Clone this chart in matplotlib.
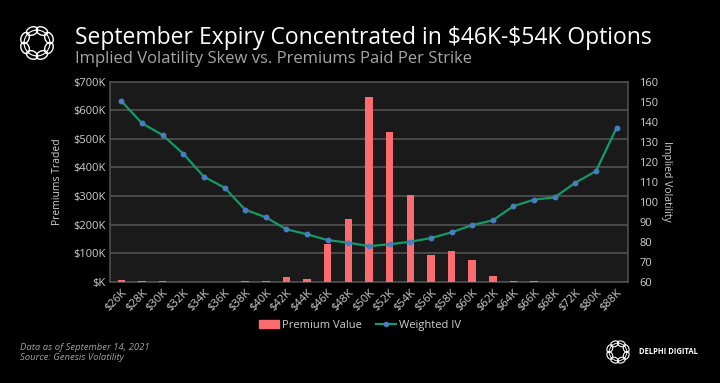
import numpy as np
import matplotlib
matplotlib.use("Agg")
import matplotlib.pyplot as plt
from matplotlib.patches import Ellipse, Patch
from matplotlib.lines import Line2D
from matplotlib.ticker import FuncFormatter, MultipleLocator

plt.rcParams['font.family'] = ['Open Sans', 'DejaVu Sans']
plt.rcParams['text.parse_math'] = False

# data
strikes = ["$26K", "$28K", "$30K", "$32K", "$34K", "$36K", "$38K", "$40K", "$42K",
           "$44K", "$46K", "$48K", "$50K", "$52K", "$54K", "$56K", "$58K", "$60K",
           "$62K", "$64K", "$66K", "$68K", "$72K", "$80K", "$88K"]
premium_k = [6, 1, 1, 0.5, 0, 0, 4, 4, 16, 10, 132, 219, 648, 523, 302, 92, 107,
             76, 19, 4, 1, 0.5, 0, 0.5, 0.5]
weighted_iv = [150.3, 139.2, 133.3, 124.0, 112.5, 107.0, 96.0, 92.2, 86.2, 83.7,
               80.8, 79.5, 77.8, 78.7, 80.0, 81.8, 84.7, 88.3, 90.7, 97.8, 101.0,
               102.2, 109.5, 115.3, 137.0]

BAR_COL = "#fb6b70"
LINE_COL = "#139a67"
MARK_COL = "#4a7cc4"
GRID_COL = "#4d4d4d"
TXT_COL = "#cfcfcf"

fig = plt.figure(figsize=(7.2, 3.83), dpi=100, facecolor="black")

ax = fig.add_axes([0.1528, 0.2645, 0.7194, 0.5222])
ax.set_facecolor("#1a1a1a")
x = np.arange(len(strikes))
ax.bar(x, premium_k, width=0.36, color=BAR_COL, zorder=3)
ax.set_ylim(0, 700)
ax.set_xlim(-0.55, len(strikes) - 0.45)
ax.yaxis.set_major_locator(MultipleLocator(100))
ax.yaxis.set_major_formatter(FuncFormatter(lambda v, p: "$K" if v == 0 else f"${int(v)}K"))
ax.grid(axis="y", color=GRID_COL, linewidth=1.3, zorder=0)
ax.set_axisbelow(True)
ax.set_xticks(x)
ax.set_xticklabels(strikes, rotation=45, ha="right", rotation_mode="anchor")
ax.tick_params(colors=TXT_COL, labelsize=8, length=0)
ax.tick_params(axis="x", pad=4)
for s in ax.spines.values():
    s.set_color(GRID_COL)
    s.set_linewidth(1.2)
ax.set_ylabel("Premiums Traded", color=TXT_COL, fontsize=7.5, labelpad=7)

ax2 = ax.twinx()
ax2.plot(x, weighted_iv, color=LINE_COL, linewidth=1.6, marker="o",
         markersize=3.2, markerfacecolor=MARK_COL, markeredgecolor=MARK_COL, zorder=4)
ax2.set_ylim(60, 160)
ax2.yaxis.set_major_locator(MultipleLocator(10))
ax2.tick_params(colors=TXT_COL, labelsize=8, length=0, pad=8)
for s in ax2.spines.values():
    s.set_visible(False)
ax2.set_ylabel("Implied Volatility", color=TXT_COL, fontsize=7.5, rotation=270,
               labelpad=10)

# legend
handles = [Patch(color=BAR_COL, label="Premium Value"),
           Line2D([0], [0], color=LINE_COL, lw=1.6, marker="o", markersize=3,
                  markerfacecolor=MARK_COL, markeredgecolor=MARK_COL, label="Weighted IV")]
fig.legend(handles=handles, loc="center", bbox_to_anchor=(0.5, 0.151), ncol=2,
           frameon=False, fontsize=8, labelcolor=TXT_COL, handlelength=1.8,
           handletextpad=0.3, columnspacing=1.2)

# titles
fig.text(0.104, 0.900, "September Expiry Concentrated in $46K-$54K Options",
         color="white", fontsize=16.5, va="center", ha="left")
fig.text(0.104, 0.846, "Implied Volatility Skew vs. Premiums Paid Per Strike",
         color="#a6a6a6", fontsize=12, va="center", ha="left")

# footnotes
fig.text(0.028, 0.093, "Data as of September 14, 2021", color="#a0a0a0",
         fontsize=6.8, style="italic", va="center")
fig.text(0.028, 0.066, "Source: Genesis Volatility", color="#a0a0a0",
         fontsize=6.8, style="italic", va="center")


def draw_logo(cx, cy, r, lw):
    # ring of overlapping loops, in pixel space
    lax = fig.add_axes([0, 0, 1, 1], facecolor="none")
    lax.set_xlim(0, 720)
    lax.set_ylim(383, 0)
    lax.axis("off")
    for k in range(8):
        a = 2 * np.pi * (k + 0.5) / 8
        ex = cx + r * 0.68 * np.cos(a)
        ey = cy + r * 0.68 * np.sin(a)
        lax.add_patch(Ellipse((ex, ey), r * 0.62, r * 0.42, angle=np.degrees(a) + 90,
                              fill=False, edgecolor="white", linewidth=lw))
    lax.add_patch(Ellipse((cx, cy), r * 1.36, r * 1.36, fill=False,
                          edgecolor="white", linewidth=lw * 0.8))


draw_logo(37, 43, 19, 1.0)
draw_logo(618, 352, 13, 0.8)
fig.text(0.888, 0.081, "DELPHI DIGITAL", color="white", fontsize=5.5,
         va="center", ha="left", fontweight="bold")

fig.savefig("out.png", dpi=100, facecolor="black")
